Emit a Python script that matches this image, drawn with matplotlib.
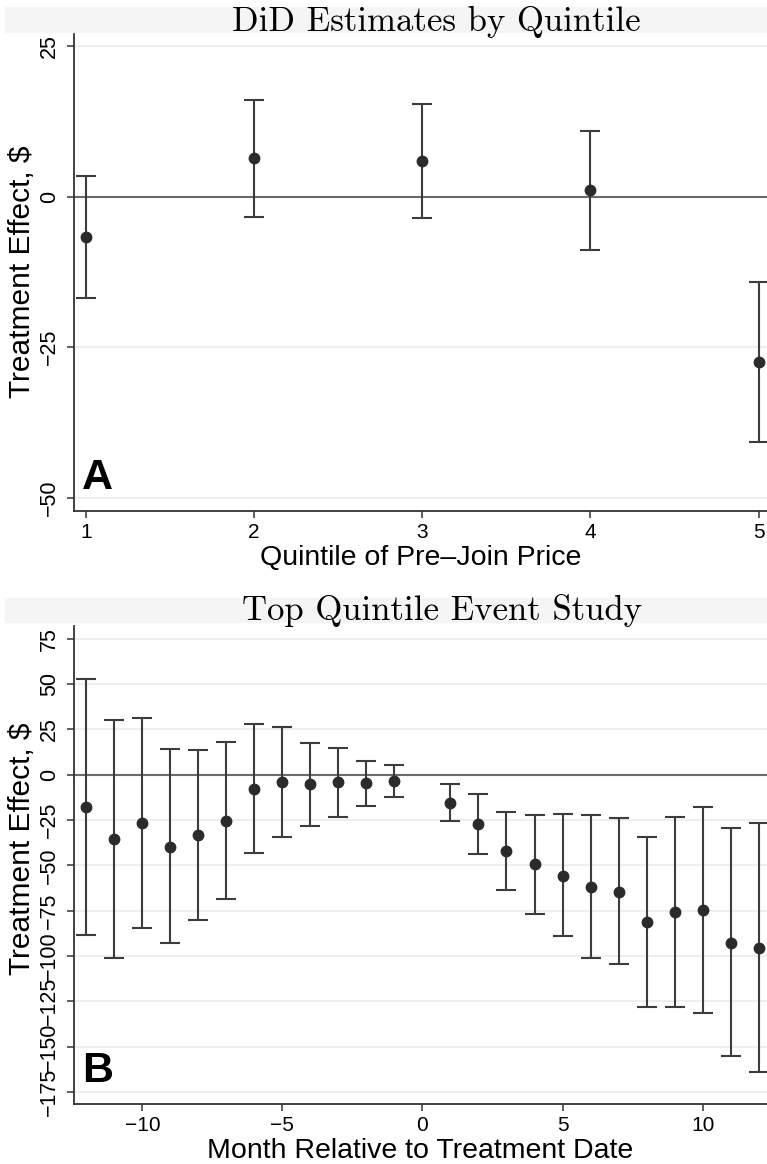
import matplotlib.pyplot as plt
from matplotlib.patches import Rectangle

# panel A: DiD estimates by quintile
quintiles = [1, 2, 3, 4, 5]
quint_est = [-6.7, 6.4, 5.9, 1.1, -27.5]
quint_lo = [-16.8, -3.3, -3.6, -8.8, -40.8]
quint_hi = [3.5, 16.1, 15.4, 11.0, -14.2]

# panel B: top quintile event study
months = [-12, -11, -10, -9, -8, -7, -6, -5, -4, -3, -2, -1,
          1, 2, 3, 4, 5, 6, 7, 8, 9, 10, 11, 12]
month_est = [-18.0, -35.6, -26.8, -39.7, -33.4, -25.7, -8.1, -4.2, -5.3, -4.0, -4.8, -3.3,
             -15.4, -27.4, -42.3, -49.4, -55.7, -61.8, -64.5, -81.4, -75.6, -74.6, -92.7, -95.4]
month_lo = [-88.4, -100.9, -84.7, -92.7, -80.1, -68.6, -43.4, -34.2, -28.3, -23.2, -17.5, -12.1,
            -25.7, -43.9, -63.8, -76.7, -89.2, -101.3, -104.6, -128.3, -128.0, -131.6, -155.2, -163.8]
month_hi = [52.6, 30.2, 31.1, 14.0, 13.6, 17.9, 28.0, 26.5, 17.7, 14.9, 7.7, 5.2,
            -5.2, -10.8, -20.7, -22.1, -21.9, -22.1, -24.1, -34.2, -23.2, -17.6, -29.6, -26.8]

sans = ['Liberation Sans', 'DejaVu Sans']

fig = plt.figure(figsize=(7.67, 11.64), dpi=100)


def panel(ax, x, est, lo, hi, yticks, ylim, xlim, xlabel, letter, label_y):
    # horizontal grid and zero line
    for t in yticks:
        ax.axhline(t, color='#ededed', lw=1.3, zorder=0)
    ax.axhline(0, color='#6a6a6a', lw=1.5, zorder=1)
    yerr = [[e - l for e, l in zip(est, lo)], [h - e for e, h in zip(est, hi)]]
    ax.errorbar(x, est, yerr=yerr, fmt='o', color='#2b2b2b', ecolor='#3c3c3c',
                elinewidth=1.5, capsize=7, capthick=1.5, markersize=7.5, zorder=3,
                clip_on=False)
    ax.set_xlim(*xlim)
    ax.set_ylim(*ylim)
    ax.set_yticks(yticks)
    ax.spines['top'].set_visible(False)
    ax.spines['right'].set_visible(False)
    for s in ['left', 'bottom']:
        ax.spines[s].set_linewidth(1.3)
        ax.spines[s].set_color('#333333')
    ax.tick_params(axis='both', direction='out', length=5, width=1.1, color='#333333')
    ax.tick_params(axis='y', labelrotation=90, pad=5)
    for lab in ax.get_yticklabels():
        lab.set_family(sans)
        lab.set_fontsize(15.5)
        lab.set_va('center')
    for lab in ax.get_xticklabels():
        lab.set_family(sans)
        lab.set_fontsize(15)
    ax.set_xlabel(xlabel, family=sans, fontsize=20.5, labelpad=2)
    ax.set_ylabel('Treatment Effect, $', family=sans, fontsize=21.5, labelpad=2)
    ax.yaxis.label.set_y(label_y)
    ax.text(0.012, 0.027, letter, transform=ax.transAxes, family=sans,
            fontsize=31, fontweight='bold', va='bottom', ha='left')


def title_band(y0, y1, text, x0, ytext):
    fig.patches.append(Rectangle((5 / 767, 1 - y1 / 1164), 762 / 767, (y1 - y0) / 1164,
                                 transform=fig.transFigure, color='#f5f5f5', zorder=0))
    fig.text(x0 / 767, 1 - ytext / 1164, text, fontname='cmr10', fontsize=25,
             ha='left', va='baseline')


ax1 = fig.add_axes([74 / 767, 1 - 511 / 1164, 693 / 767, 478 / 1164])
panel(ax1, quintiles, quint_est, quint_lo, quint_hi, [25, 0, -25, -50],
      (-52.2, 27.2), (0.93, 5.05), 'Quintile of Pre\u2013Join Price', 'A', 0.5)
ax1.set_xticks(quintiles)

ax2 = fig.add_axes([74 / 767, 1 - 1104 / 1164, 693 / 767, 478 / 1164])
panel(ax2, months, month_est, month_lo, month_hi,
      [75, 50, 25, 0, -25, -50, -75, -100, -125, -150, -175],
      (-181.6, 82), (-12.44, 12.3), 'Month Relative to Treatment Date', 'B', 0.535)
ax2.set_xticks([-10, -5, 0, 5, 10])
ax2.set_xticklabels(['\u221210', '\u22125', '0', '5', '10'], family=sans, fontsize=15)

title_band(7, 32, 'DiD Estimates by Quintile', 232, 31)
title_band(598, 622, 'Top Quintile Event Study', 242, 620)

fig.savefig('out.png', dpi=100)
